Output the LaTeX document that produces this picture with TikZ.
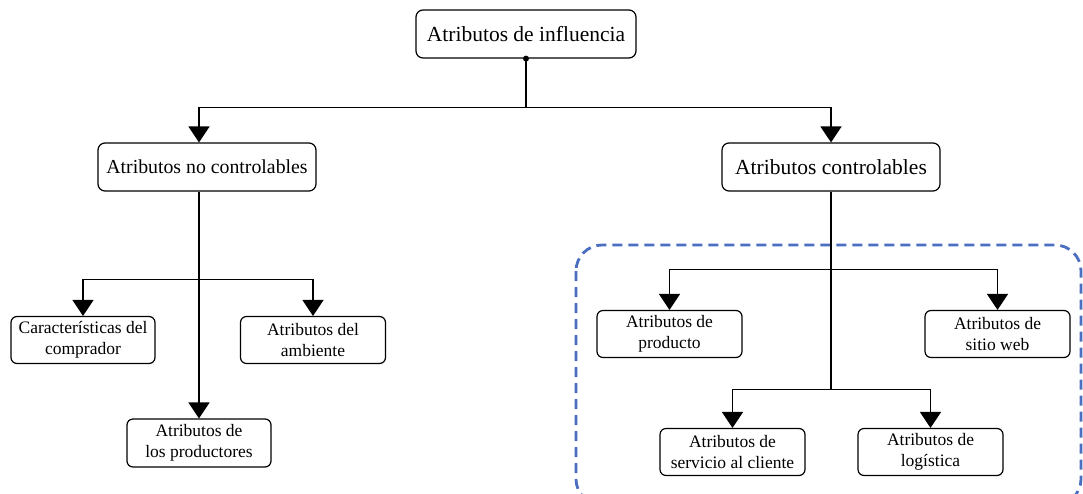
\documentclass[tikz,border=0pt]{standalone}
\usepackage{fontspec}
\setmainfont{Liberation Serif}
\usetikzlibrary{arrows.meta,calc}
\definecolor{dashblue}{HTML}{4A6EC0}
\begin{document}
\begin{tikzpicture}[x=1pt,y=-1pt,
  bigbox/.style={draw,line width=1.2pt,rounded corners=7pt,minimum height=48pt,align=center,inner sep=0pt,font=\fontsize{21.5}{24}\selectfont},
  smallbox/.style={draw,line width=1.2pt,rounded corners=6pt,minimum width=145pt,minimum height=47pt,align=center,inner sep=0pt,font=\fontsize{17.5}{20.5}\selectfont},
  conn/.style={line width=1.6pt},
  arr/.style={conn,-{Triangle[width=21pt,length=16pt]}}]
\useasboundingbox (0,0) rectangle (1083,493);
\clip (0,0) rectangle (1083,493);
\fill[white] (0,0) rectangle (1083,493);
% dashed region
\draw[dashblue,line width=2.8pt,dash pattern=on 10pt off 6pt,rounded corners=26pt] (576,245) rectangle (1081,505);
% nodes
\node[bigbox,minimum width=220pt] (top) at (526,34) {Atributos de influencia};
\node[bigbox,minimum width=218pt,font=\fontsize{19.8}{24}\selectfont] (nc) at (207,167) {Atributos no controlables};
\node[bigbox,minimum width=218pt] (ac) at (831,167) {Atributos controlables};
\node[smallbox,minimum width=144pt] (comp) at (83,340) {Características del\\comprador};
\node[smallbox] (amb) at (313,340) {Atributos del\\ambiente};
\node[smallbox,minimum width=144pt,minimum height=48pt] (prod) at (199,443) {Atributos de\\los productores};
\node[smallbox] (pto) at (669.5,334) {Atributos de\\producto};
\node[smallbox] (web) at (997.5,334) {Atributos de\\sitio web};
\node[smallbox] (serv) at (732.5,452) {Atributos de\\servicio al cliente};
\node[smallbox] (log) at (930.5,452) {Atributos de\\logística};
% connectors
\coordinate (hub) at ($(top.south)+(0,49)$);
\coordinate (ls) at (nc.south -| prod.north);
\fill (top.south) circle (3pt);
\draw[conn] (top.south) -- (hub);
\draw[arr] (hub) -| (ls |- nc.north);
\draw[arr] (hub) -| (ac.north);
% left
\coordinate (lh) at ($(ls)+(0,88)$);
\draw[arr] (ls) -- (prod.north);
\draw[arr] (lh) -| (comp.north);
\draw[arr] (lh) -| (amb.north);
% right
\coordinate (rh1) at ($(ac.south)+(0,78)$);
\coordinate (rh2) at ($(ac.south)+(0,198)$);
\draw[conn] (ac.south) -- (rh2);
\draw[arr] (rh1) -| (pto.north);
\draw[arr] (rh1) -| (web.north);
\draw[arr] (rh2) -| (serv.north);
\draw[arr] (rh2) -| (log.north);
\end{tikzpicture}
\end{document}
